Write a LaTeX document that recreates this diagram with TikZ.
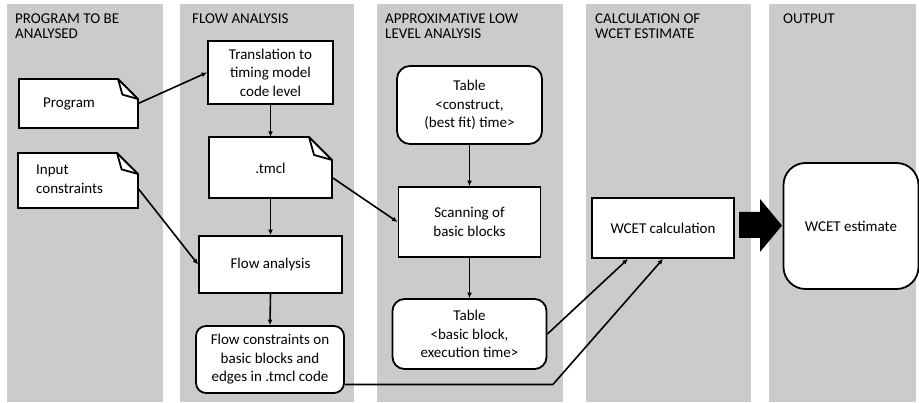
\documentclass[tikz,border=0pt]{standalone}
\usepackage{fontspec}
\setmainfont{Carlito}
\usetikzlibrary{arrows.meta,calc}
\definecolor{bg}{RGB}{203,203,203}
\tikzset{
  col/.style={fill=bg,draw=none},
  hdr/.style={anchor=base west,inner sep=0pt,align=left,font=\fontsize{15}{14.5}\selectfont},
  txt/.style={inner sep=0pt,align=center,font=\fontsize{15}{18.5}\selectfont},
  boxnode/.style={draw,line width=1.8pt,fill=white,inner sep=0pt,align=center,
     font=\fontsize{15}{18.5}\selectfont},
  roundnode/.style={boxnode,rounded corners=#1},
  docframe/.style={draw=none,fill=none,inner sep=0pt},
  docline/.style={line width=1.8pt,line join=miter,fill=white},
  conn/.style={line width=1.6pt,-{Latex[length=5.5pt,width=5pt]}},
}
\newcommand\docshape[5]{%
  \filldraw[docline] (#1,#2) -- (#3-#5,#2) -- (#3,#2+#5) -- (#3,#4) -- (#1,#4) -- cycle;
  \draw[docline,fill=none] (#3-#5,#2) -- (#3-#5+0.22*#5,#2+0.78*#5) -- (#3,#2+#5);
}
\begin{document}
\begin{tikzpicture}[x=1pt,y=-1pt]
\useasboundingbox (0,0) rectangle (919,403);
% columns
\fill[col] (7,4) rectangle (163,402);
\fill[col] (180,4) rectangle (354,402);
\fill[col] (377,4) rectangle (563,402);
\fill[col] (586,4) rectangle (751,402);
\fill[col] (769,4) rectangle (916,402);
% headers (base anchor = baseline of last line)
\node[hdr] (h1) at (15,38.5) {PROGRAM TO BE\\ANALYSED};
\node[hdr] (h2) at (192,24) {FLOW ANALYSIS};
\node[hdr] (h3) at (385,38.5) {APPROXIMATIVE LOW\\LEVEL ANALYSIS};
\node[hdr] (h4) at (595,38.5) {CALCULATION OF\\WCET ESTIMATE};
\node[hdr] (h5) at (783,24) {OUTPUT};
% document shapes
\docshape{19}{79}{138}{128}{20}
\node[docframe,minimum width=119pt,minimum height=49pt] (prog) at (78.5,103.5) {};
\node[txt] (progtxt) at (69,104) {Program};
\docshape{18}{153}{138}{208}{21}
\node[docframe,minimum width=120pt,minimum height=55pt] (inp) at (78,180.5) {};
\node[txt,anchor=north west,align=left] (inptxt) at (36,165) {Input\\constraints};
\docshape{209}{137}{332}{198}{23}
\node[docframe,minimum width=123pt,minimum height=61pt] (tmcl) at (270.5,167.5) {};
\node[txt] (tmcltxt) at (270.5,168) {.tmcl};
% boxes
\node[boxnode,minimum width=125pt,minimum height=63pt] (trans) at (270.5,72.5) {Translation to\\timing model\\code level};
\node[boxnode,minimum width=143pt,minimum height=57pt] (flow) at (270.5,264.5) {Flow analysis};
\node[roundnode=10pt,minimum width=148pt,minimum height=67pt] (fc) at (270,359.5) {Flow constraints on\\basic blocks and\\edges in .tmcl code};
\node[roundnode=13pt,minimum width=145pt,minimum height=78pt] (tc) at (469.5,105) {Table\\<construct,\\(best fit) time>};
\node[boxnode,minimum width=142pt,minimum height=70pt] (scan) at (469.5,222) {Scanning of\\basic blocks};
\node[roundnode=12pt,minimum width=154pt,minimum height=70pt] (tb) at (469.5,334) {Table\\<basic block,\\execution time>};
\node[boxnode,minimum width=142pt,minimum height=60pt] (wc) at (663,228) {WCET calculation};
\node[roundnode=22pt,minimum width=135pt,minimum height=126pt] (we) at (851,226) {WCET estimate};
% big arrow
\fill[black] (739,212) -- (760,212) -- (760,199) -- (782,225.5) -- (760,252) -- (760,238) -- (739,238) -- cycle;
% connectors
\draw[conn] (prog.east) -- (trans.west);
\draw[conn] ([yshift=-8pt]inp.east) -- (flow.west);
\draw[conn] (trans.south) -- (tmcl.north);
\draw[conn] (tmcl.south) -- (flow.north);
\draw[conn] (flow.south) -- (fc.north);
\draw[conn] ([yshift=-10pt]tmcl.east) -- (scan.west);
\draw[conn] (tc.south) -- (tc.south |- scan.north);
\draw[conn] (scan.south) -- (scan.south |- tb.north);
\draw[conn] (tb.east) -- ([xshift=-35pt]wc.south);
\draw[conn] ([yshift=-25pt]fc.east) -- ++(208,0) -- (wc.south);
\end{tikzpicture}
\end{document}
